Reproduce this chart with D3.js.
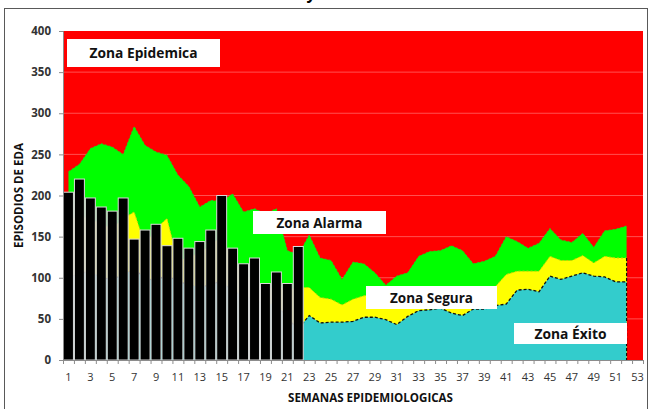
<!DOCTYPE html>
<html>
<head>
<meta charset="utf-8">
<script src="https://cdn.jsdelivr.net/npm/d3@7"></script>
<style>
  body { margin: 0; background: #fff; }
  svg { display: block; font-family: "Open Sans", "DejaVu Sans", sans-serif; }
</style>
</head>
<body>
<div id="chart"></div>
<script>
// semanas epidemiologicas
const weeks = d3.range(1, 54);
const yTicks = [0, 50, 100, 150, 200, 250, 300, 350, 400];

// episodios de EDA observados (semanas 1-22)
const casos = [204, 220, 197, 186, 181, 197, 147, 158, 165, 139, 148, 136, 144, 158, 200, 136, 117, 124, 93, 107, 93, 138];

// limites superiores de cada zona (semanas 1-52)
const alarma = [229, 238, 257, 263, 259, 250, 284, 261, 253, 249, 225, 211, 186, 194, 193, 202, 180, 184, 178, 184, 133, 128,
  152, 124, 121, 98, 119, 117, 106, 91, 102, 106, 126, 132, 133, 139, 133, 117, 120, 126, 150, 144, 136, 142, 160, 146, 143, 154, 137, 157, 159, 163];
const segura = [170, 175, 172, 165, 160, 172, 180, 140, 160, 172, 120, 125, 130, 140, 150, 120, 105, 96, 85, 90, 85, 88,
  88, 76, 74, 67, 74, 78, 80, 78, 75, 80, 82, 84, 86, 85, 82, 84, 86, 89, 104, 108, 108, 108, 126, 121, 121, 127, 118, 126, 124, 124];
const exito = [100, 105, 108, 100, 98, 104, 110, 100, 96, 104, 95, 92, 88, 92, 96, 84, 78, 74, 66, 70, 50, 38,
  54, 45, 46, 46, 47, 52, 52, 49, 43, 53, 60, 61, 63, 57, 54, 62, 62, 66, 68, 85, 86, 83, 102, 98, 102, 106, 102, 101, 95, 95];

const zoneNames = ['Zona Epidemica', 'Zona Alarma', 'Zona Segura', 'Zona Éxito'];

const width = 651, height = 409;
const margin = { top: 31, right: 8, bottom: 49, left: 63 };

const svg = d3.select('#chart').append('svg')
  .attr('width', width)
  .attr('height', height);

// marco del grafico
svg.append('rect')
  .attr('x', 4.5).attr('y', 8.5)
  .attr('width', 643).attr('height', 420)
  .attr('fill', 'none')
  .attr('stroke', '#595959');

// resto del titulo (cortado arriba)
svg.append('text')
  .attr('x', 311).attr('y', -1)
  .attr('text-anchor', 'middle')
  .attr('font-size', 16).attr('font-weight', 'bold')
  .text('y');

const x = d3.scaleBand()
  .domain(weeks)
  .range([margin.left, width - margin.right])
  .paddingInner(0).paddingOuter(0);
const bw = x.bandwidth();
const cx = w => x(w) + bw / 2;

const xLin = d3.scaleLinear()
  .domain([0, 53])
  .range([margin.left, width - margin.right]);

const y = d3.scaleLinear()
  .domain([0, 400])
  .range([height - margin.bottom, margin.top]);

// zona epidemica = fondo rojo
svg.append('rect')
  .attr('x', margin.left).attr('y', margin.top)
  .attr('width', width - margin.right - margin.left)
  .attr('height', y(0) - y(400))
  .attr('fill', '#ff0000');

svg.append('g')
  .selectAll('line')
  .data(yTicks.filter(d => d > 0 && d < 400))
  .enter().append('line')
  .attr('x1', margin.left).attr('x2', width - margin.right)
  .attr('y1', d => y(d)).attr('y2', d => y(d))
  .attr('stroke', '#ff5050')
  .attr('stroke-width', 1);

function zoneArea(values) {
  return d3.area()
    .x((d, i) => cx(weeks[i]))
    .y0(y(0))
    .y1(d => y(d))(values);
}
function zoneLine(values) {
  return d3.line()
    .x((d, i) => cx(weeks[i]))
    .y(d => y(d))(values);
}

svg.append('path').attr('d', zoneArea(alarma)).attr('fill', '#00ff00');
svg.append('path').attr('d', zoneLine(alarma))
  .attr('fill', 'none').attr('stroke', '#22cc22').attr('stroke-width', 1).attr('stroke-dasharray', '2,2');

svg.append('path').attr('d', zoneArea(segura)).attr('fill', '#ffff00');
svg.append('path').attr('d', zoneLine(segura))
  .attr('fill', 'none').attr('stroke', '#c8d400').attr('stroke-width', 1).attr('stroke-dasharray', '2,2');

svg.append('path').attr('d', zoneArea(exito)).attr('fill', '#33cccc');
svg.append('path').attr('d', zoneLine(exito))
  .attr('fill', 'none').attr('stroke', '#111').attr('stroke-width', 1.3).attr('stroke-dasharray', '3,2');

// borde derecho de las zonas
const last = exito.length - 1;
svg.append('line')
  .attr('x1', cx(weeks[last])).attr('x2', cx(weeks[last]))
  .attr('y1', y(segura[last])).attr('y2', y(0))
  .attr('stroke', '#111').attr('stroke-width', 1.2).attr('stroke-dasharray', '3,2');

// barras de casos
svg.append('g')
  .selectAll('rect')
  .data(casos)
  .enter().append('rect')
  .attr('x', (d, i) => x(weeks[i]) + 0.5)
  .attr('y', d => y(d))
  .attr('width', bw - 1)
  .attr('height', d => y(0) - y(d))
  .attr('fill', '#000')
  .attr('stroke', '#d9d9d9')
  .attr('stroke-width', 1);

// ejes
const yAxis = svg.append('g')
  .attr('transform', `translate(${margin.left},0)`)
  .call(d3.axisLeft(y).tickValues(yTicks).tickSize(4).tickPadding(8));
yAxis.selectAll('text')
  .attr('font-size', 11.5).attr('font-weight', 'bold').attr('fill', '#333')
  .attr('font-family', '"Open Sans", sans-serif');

const xTicks = svg.append('g')
  .attr('transform', `translate(0,${y(0)})`)
  .call(d3.axisBottom(xLin).tickValues(d3.range(0, 54)).tickSize(4).tickFormat(''));

const xAxis = svg.append('g')
  .attr('transform', `translate(0,${y(0)})`)
  .call(d3.axisBottom(x).tickValues(weeks.filter(w => w % 2 === 1)).tickSize(0).tickPadding(13));
xAxis.select('.domain').remove();
xAxis.selectAll('text')
  .attr('font-size', 11).attr('fill', '#333')
  .attr('font-family', '"Open Sans", sans-serif');

[yAxis, xTicks].forEach(g => {
  g.selectAll('.domain, line').attr('stroke', '#8c8c8c');
});

// titulos de ejes
svg.append('text')
  .attr('x', 370.5).attr('y', 402)
  .attr('text-anchor', 'middle')
  .attr('font-size', 11.5).attr('font-weight', 'bold').attr('fill', '#111')
  .attr('textLength', 165).attr('lengthAdjust', 'spacingAndGlyphs')
  .text('SEMANAS EPIDEMIOLOGICAS');

svg.append('text')
  .attr('transform', `translate(23,${(y(0) + y(400)) / 2}) rotate(-90)`)
  .attr('text-anchor', 'middle')
  .attr('font-size', 11.5).attr('font-weight', 'bold').attr('fill', '#111')
  .attr('textLength', 105).attr('lengthAdjust', 'spacingAndGlyphs')
  .text('EPISODIOS DE EDA');

// etiquetas de zonas
const labelBoxes = [
  { x0: 67, x1: 220, y0: 39, y1: 67, tw: 108 },
  { x0: 253, x1: 386, y0: 211, y1: 234, tw: 86 },
  { x0: 366, x1: 497, y0: 286, y1: 309, tw: 83 },
  { x0: 514, x1: 627, y0: 323, y1: 344, tw: 72 }
];

const labels = svg.append('g')
  .selectAll('g')
  .data(zoneNames)
  .enter().append('g');
labels.append('rect')
  .attr('x', (d, i) => labelBoxes[i].x0)
  .attr('y', (d, i) => labelBoxes[i].y0)
  .attr('width', (d, i) => labelBoxes[i].x1 - labelBoxes[i].x0)
  .attr('height', (d, i) => labelBoxes[i].y1 - labelBoxes[i].y0)
  .attr('fill', '#fff');
labels.append('text')
  .attr('x', (d, i) => (labelBoxes[i].x0 + labelBoxes[i].x1) / 2)
  .attr('y', (d, i) => (labelBoxes[i].y0 + labelBoxes[i].y1) / 2)
  .attr('dy', '0.36em')
  .attr('text-anchor', 'middle')
  .attr('font-size', 14).attr('font-weight', 'bold').attr('fill', '#111')
  .attr('textLength', (d, i) => labelBoxes[i].tw).attr('lengthAdjust', 'spacingAndGlyphs')
  .text(d => d);
</script>
</body>
</html>
